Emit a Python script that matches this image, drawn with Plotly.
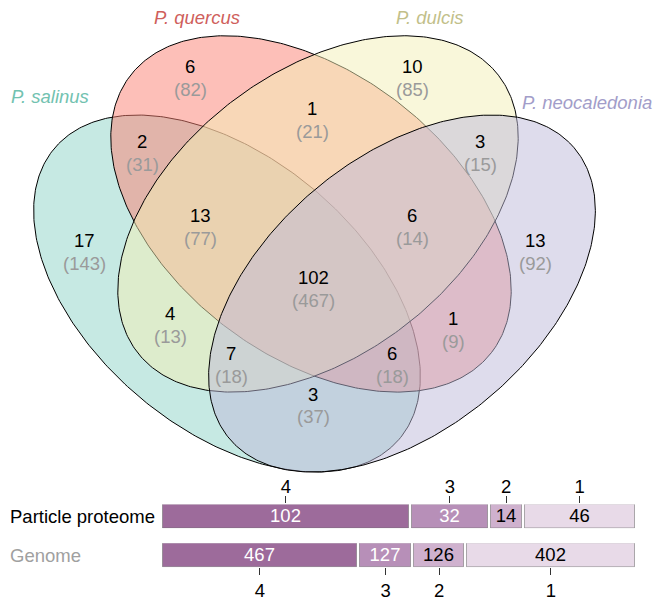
import numpy as np
import plotly.graph_objects as go

# ---------------- data ----------------
set_names = ["P. salinus", "P. quercus", "P. dulcis", "P. neocaledonia"]
region_keys = ["A", "B", "C", "D", "AB", "BC", "CD", "ABC", "BCD", "ABCD",
               "AC", "BD", "ACD", "ABD", "AD"]
proteome_counts = [17, 6, 10, 13, 2, 1, 3, 13, 6, 102, 4, 1, 7, 6, 3]
genome_counts = [143, 82, 85, 92, 31, 21, 15, 77, 14, 467, 13, 9, 18, 18, 37]

degree_labels = ["4", "3", "2", "1"]
proteome_by_degree = [102, 32, 14, 46]
genome_by_degree = [467, 127, 126, 402]
row_labels = ["Particle proteome", "Genome"]

# ---------------- styling / layout (pixel space) ----------------
W, H = 655, 601
FONT = "Liberation Sans"
FS = 18.5
fill_cols = ["rgba(141,211,199,0.5)", "rgba(251,128,114,0.5)",
             "rgba(244,239,182,0.5)", "rgba(190,186,218,0.5)"]
name_cols = ["#72c2b0", "#cf5f5c", "#c2bf8a", "#a29dc9"]
# ellipse geometry: cx, cy, a, b, angle(deg, screen coords)
ellipses = [(227, 295, 226, 136, 40.4),
            (311, 215, 228, 142, 37.7),
            (318, 215, 228, 142, -37.7),
            (402, 295, 226, 136, -40.4)]
name_pos = [(50, 97), (197, 18), (430, 18), (587, 103)]
region_pos = {"A": (84, 242), "B": (190, 67), "C": (412, 67), "D": (535, 242),
              "AB": (142, 142), "BC": (312, 109), "CD": (480, 142),
              "ABC": (200, 217), "BCD": (412, 217), "ABCD": (313, 279),
              "AC": (170, 315), "BD": (453, 320), "ACD": (231, 355),
              "ABD": (392, 355), "AD": (313, 396)}
deg_fill = ["#9d6b9b", "#b78fb8", "#cfb1ce", "#e8dae8"]
deg_text = ["white", "white", "black", "black"]
bar_x0, bar_x1 = 161, 636
prot_y = (507, 531)
gen_y = (546, 570)

fig = go.Figure()

t = np.linspace(0, 2 * np.pi, 400)
for i, (cx, cy, a, b, ang) in enumerate(ellipses):
    p = np.deg2rad(ang)
    xs = cx + a * np.cos(t) * np.cos(p) - b * np.sin(t) * np.sin(p)
    ys = cy + a * np.cos(t) * np.sin(p) + b * np.sin(t) * np.cos(p)
    fig.add_trace(go.Scatter(x=xs, y=ys, mode="lines", fill="toself",
                             fillcolor=fill_cols[i],
                             line=dict(color="black", width=1),
                             hoverinfo="skip", showlegend=False,
                             xaxis="x", yaxis="y"))

annotations = []
for i, nm in enumerate(set_names):
    annotations.append(dict(x=name_pos[i][0], y=name_pos[i][1], xref="x", yref="y",
                            text="<i>%s</i>" % nm, showarrow=False,
                            font=dict(family=FONT, size=FS, color=name_cols[i])))
for k, pc, gc in zip(region_keys, proteome_counts, genome_counts):
    x, y = region_pos[k]
    annotations.append(dict(x=x, y=y, xref="x", yref="y", text=str(pc),
                            showarrow=False,
                            font=dict(family=FONT, size=FS, color="black")))
    annotations.append(dict(x=x, y=y + 23, xref="x", yref="y", text="(%d)" % gc,
                            showarrow=False,
                            font=dict(family=FONT, size=FS, color="#9a9a9a")))

# ---------------- bars ----------------
def add_bars(vals, xa, ya):
    total = float(sum(vals))
    gap = total * 3.0 / (bar_x1 - bar_x0)
    cum = np.concatenate([[0], np.cumsum(vals)[:-1]])
    for j, v in enumerate(vals):
        fig.add_trace(go.Bar(y=[0], x=[v - gap], base=[cum[j] + gap / 2],
                             orientation="h", width=1,
                             marker=dict(color=deg_fill[j],
                                         line=dict(color="rgba(110,110,110,0.55)", width=1)),
                             text=[str(v)], textposition="inside", textangle=0,
                             insidetextanchor="middle", constraintext="none",
                             textfont=dict(family=FONT, size=FS, color=deg_text[j]),
                             hoverinfo="skip", showlegend=False,
                             xaxis=xa, yaxis=ya))
    centers = [c + v / 2 for c, v in zip(cum, vals)]
    return total, centers

tp, cp = add_bars(proteome_by_degree, "x2", "y2")
tg, cg = add_bars(genome_by_degree, "x3", "y3")

annotations.append(dict(x=8, y=(prot_y[0] + prot_y[1]) / 2, xref="x", yref="y",
                        text=row_labels[0], showarrow=False, xanchor="left",
                        font=dict(family=FONT, size=FS, color="black")))
annotations.append(dict(x=8, y=(gen_y[0] + gen_y[1]) / 2, xref="x", yref="y",
                        text=row_labels[1], showarrow=False, xanchor="left",
                        font=dict(family=FONT, size=FS, color="#a0a0a0")))

def ydom(r):
    return [1 - r[1] / H, 1 - r[0] / H]

xdom = [bar_x0 / W, bar_x1 / W]
tickstyle = dict(ticks="outside", ticklen=7, tickwidth=1, tickcolor="#333",
                 showgrid=False, zeroline=False, showline=False,
                 tickfont=dict(family=FONT, size=FS, color="black"), fixedrange=True)

fig.update_layout(
    width=W, height=H, autosize=False,
    margin=dict(l=0, r=0, t=0, b=0),
    paper_bgcolor="white", plot_bgcolor="rgba(0,0,0,0)",
    barmode="overlay", bargap=0,
    xaxis=dict(domain=[0, 1], range=[0, W], visible=False, fixedrange=True),
    yaxis=dict(domain=[0, 1], range=[H, 0], visible=False, fixedrange=True),
    xaxis2=dict(domain=xdom, range=[0, tp], anchor="y2", side="top",
                tickvals=cp, ticktext=degree_labels, ticklabelstandoff=-4, **tickstyle),
    yaxis2=dict(domain=ydom(prot_y), range=[-0.5, 0.5], anchor="x2", visible=False),
    xaxis3=dict(domain=xdom, range=[0, tg], anchor="y3", side="bottom",
                tickvals=cg, ticktext=degree_labels, **tickstyle),
    yaxis3=dict(domain=ydom(gen_y), range=[-0.5, 0.5], anchor="x3", visible=False),
    annotations=annotations,
)

fig.write_html("out.html", config={"displayModeBar": False},
               post_script="document.body.style.margin='0';document.body.style.padding='0';document.body.style.overflow='hidden';")
